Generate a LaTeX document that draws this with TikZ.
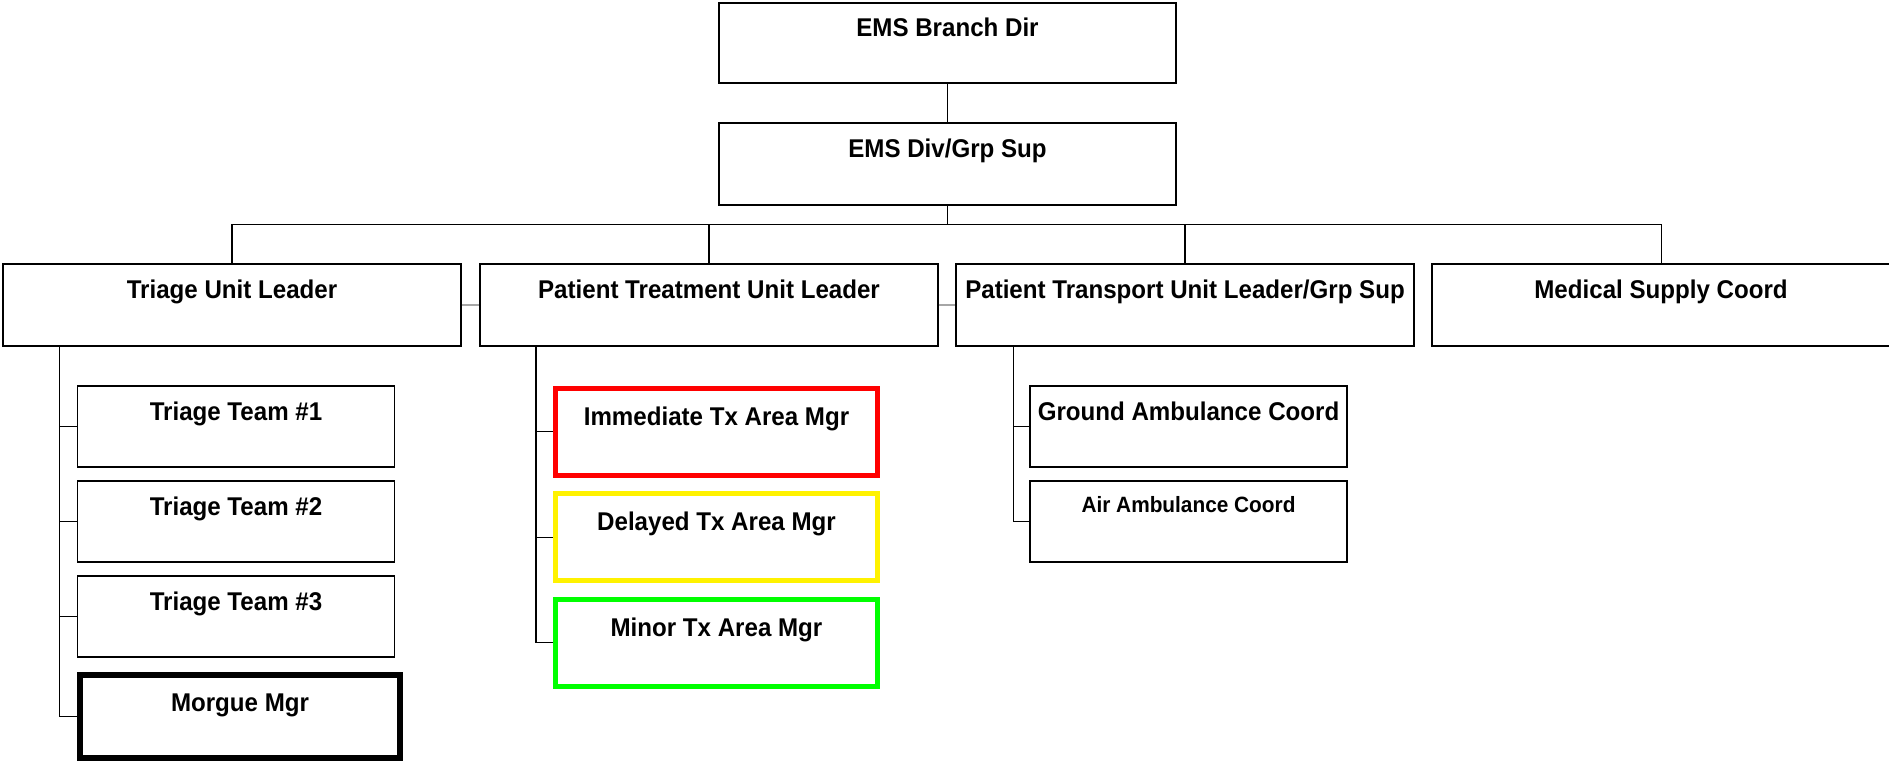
\documentclass[tikz,border=0pt]{standalone}
\usepackage{fontspec}
\usepackage{xcolor}
\usepackage{tikz}
\usetikzlibrary{calc}
\newfontfamily\orgfont{Liberation Sans}[FakeStretch=0.94]

\begin{document}
\begin{tikzpicture}[
  orgbox/.style={draw, black, line width=0.45pt, inner sep=0pt, text height=0.34cm, text depth=0.47cm,
    font=\orgfont\bfseries\fontsize{7.3}{8.5}\selectfont},
  areabox/.style={orgbox, line width=1.42pt, text height=0.37cm, text depth=0.50cm},
  orgline/.style={black, line width=0.3pt}
]
\useasboundingbox (0,0) rectangle (18.89,-7.62);

\node [orgbox, minimum width=4.57cm, text depth=0.46cm] (branch) at (9.475,-0.43) {EMS Branch Dir};
\node [orgbox, minimum width=4.57cm, text depth=0.48cm] (div) at (9.475,-1.64) {EMS Div/Grp Sup};

\node [orgbox, minimum width=4.58cm, text depth=0.48cm] (triage) at (2.32,-3.05) {Triage Unit Leader};
\node [orgbox, minimum width=4.58cm, text depth=0.48cm] (treat) at (7.09,-3.05) {Patient Treatment Unit Leader};
\node [orgbox, minimum width=4.58cm, text depth=0.48cm] (transp) at (11.85,-3.05) {Patient Transport Unit Leader/Grp Sup};
\node [orgbox, minimum width=4.58cm, text depth=0.48cm] (supply) at (16.61,-3.05) {Medical Supply Coord};

\node [orgbox, minimum width=3.17cm] (team1) at (2.36,-4.265) {Triage Team \#1};
\node [orgbox, minimum width=3.17cm] (team2) at (2.36,-5.215) {Triage Team \#2};
\node [orgbox, minimum width=3.17cm] (team3) at (2.36,-6.165) {Triage Team \#3};
\node [orgbox, line width=1.7pt, minimum width=3.20cm, text height=0.36cm, text depth=0.47cm] (morgue) at (2.40,-7.165) {Morgue Mgr};

\node [areabox, red, text=black, minimum width=3.22cm] (immediate) at (7.165,-4.317) {Immediate Tx Area Mgr};
\node [areabox, yellow, text=black, minimum width=3.22cm] (delayed) at (7.165,-5.372) {Delayed Tx Area Mgr};
\node [areabox, green, text=black, minimum width=3.22cm] (minor) at (7.165,-6.428) {Minor Tx Area Mgr};

\node [orgbox, minimum width=3.17cm] (ground) at (11.885,-4.265) {Ground Ambulance Coord};
\node [orgbox, minimum width=3.17cm, text height=0.31cm, text depth=0.50cm,
  font=\orgfont\bfseries\fontsize{6.3}{7.5}\selectfont] (air) at (11.885,-5.215) {Air Ambulance Coord};

\coordinate (bus) at (9.475,-2.245);
\coordinate (triagespine) at (0.594,-3.46);
\coordinate (treatspine) at (5.36,-3.46);
\coordinate (transpspine) at (10.135,-3.46);

\draw [orgline] (branch.south) -- (div.north);
\draw [orgline] (div.south) -- (bus);
\draw [orgline] (triage.north) |- (bus) -| (supply.north);
\draw [orgline] (treat.north) -- (treat.north |- bus);
\draw [orgline] (transp.north) -- (transp.north |- bus);

\draw [gray!70, line width=0.3pt] (triage.east) -- (treat.west);
\draw [gray!70, line width=0.3pt] (treat.east) -- (transp.west);

\draw [orgline] (triagespine) |- (morgue.west);
\foreach \n in {team1,team2,team3}
  \draw [orgline] (triagespine |- \n.west) -- (\n.west);

\draw [orgline] (treatspine) |- (minor.west);
\foreach \n in {immediate,delayed}
  \draw [orgline] (treatspine |- \n.west) -- (\n.west);

\draw [orgline] (transpspine) |- (air.west);
\draw [orgline] (transpspine |- ground.west) -- (ground.west);

\end{tikzpicture}
\end{document}
